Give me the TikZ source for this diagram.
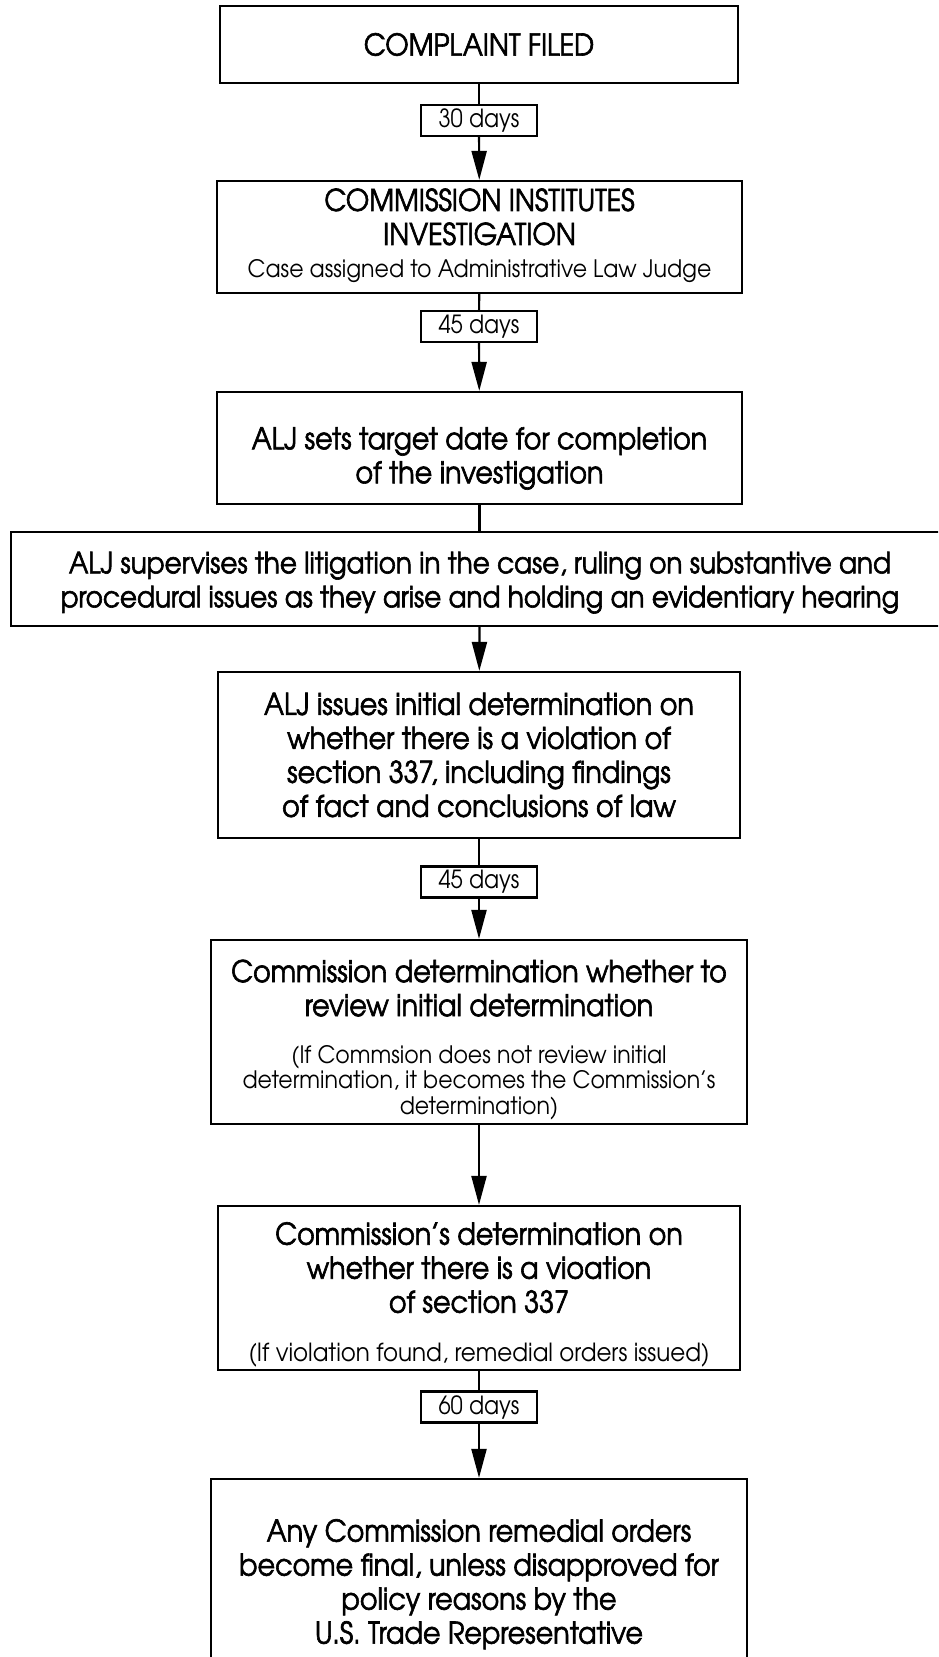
\documentclass[tikz,border=0pt]{standalone}
\usepackage{fontspec}
\setmainfont{TeX Gyre Adventor}
\newfontfamily\mainfam{TeX Gyre Adventor}[FakeStretch=0.9,FakeBold=2]
\newfontfamily\thinfam{TeX Gyre Adventor}[FakeStretch=0.92]
\newfontfamily\labfam{TeX Gyre Adventor}[FakeStretch=0.88]
\usetikzlibrary{arrows.meta}
\newcommand{\subf}{\thinfam\fontsize{24}{25.4}\selectfont}
\newcommand{\up}[1]{\rule{0pt}{#1pt}}
\begin{document}
\begin{tikzpicture}[x=1pt,y=-1pt,
  box/.style={draw,line width=2.2pt,align=center,inner sep=0pt,font=\mainfam\fontsize{30}{34}\selectfont},
  lab/.style={draw,line width=2.2pt,minimum width=116pt,minimum height=31pt,inner sep=0pt,font=\labfam\fontsize{25}{26}\selectfont},
  conn/.style={line width=2.2pt},
  arr/.style={line width=2.2pt,-{Triangle[length=29pt,width=15pt]}}]
\useasboundingbox (0,0) rectangle (938,1657);
\begin{scope}
\clip (0,0) rectangle (938,1657);
\node[box,minimum width=518pt,minimum height=77pt] (b1) at (479,44.5) {COMPLAINT FILED};
\node[box,minimum width=525pt,minimum height=112pt] (b2) at (479.5,237) {COMMISSION INSTITUTES\\INVESTIGATION\\[-1pt]{\subf\begin{tabular}[t]{@{}c@{}}Case assigned to Administrative Law Judge\end{tabular}}};
\node[box,minimum width=525pt,minimum height=112pt] (b3) at (479.5,448) {\up{43}ALJ sets target date for completion\\of the investigation};
\node[box,minimum width=938pt,minimum height=94pt,font=\mainfam\fontsize{29.2}{34}\selectfont] (b4) at (480,579) {\up{29}ALJ supervises the litigation in the case, ruling on substantive and\\procedural issues as they arise and holding an evidentiary hearing};
\node[box,minimum width=522pt,minimum height=166pt] (b5) at (479,755) {ALJ issues initial determination on\\whether there is a violation of\\section 337, including findings\\of fact and conclusions of law};
\node[box,minimum width=536pt,minimum height=184pt] (b6) at (479,1032) {\up{40}Commission determination whether to\\review initial determination\\[13pt]{\subf\begin{tabular}[t]{@{}c@{}}(If Commsion does not review initial\\determination, it becomes the Commission’s\\determination)\end{tabular}}};
\node[box,minimum width=522pt,minimum height=164pt] (b7) at (479,1288) {\up{38}Commission’s determination on\\whether there is a vioation\\of section 337\\[15pt]{\subf\fontsize{25}{25.4}\selectfont\begin{tabular}[t]{@{}c@{}}(If violation found, remedial orders issued)\end{tabular}}};
\node[box,minimum width=536pt,minimum height=191pt] (b8) at (479,1574.5) {\up{42}Any Commission remedial orders\\become final, unless disapproved for\\policy reasons by the\\U.S. Trade Representative};
\end{scope}
\node[lab] (l1) at (479,120.5) {30 days};
\node[lab] (l2) at (479,326.5) {45 days};
\node[lab] (l3) at (479,882) {45 days};
\node[lab] (l4) at (479,1407) {60 days};
\draw[conn] (b1) -- (l1);
\draw[arr] (l1) -- (b2);
\draw[conn] (b2) -- (l2);
\draw[arr] (l2) -- (b3);
\draw[conn] (b3.south) -- (b3.south |- b4.north);
\draw[arr] (b3.south |- b4.south) -- (b5);
\draw[conn] (b5) -- (l3);
\draw[arr] (l3) -- (b6);
\draw[arr] (b6) -- (b7);
\draw[conn] (b7) -- (l4);
\draw[arr] (l4) -- (b8);
\end{tikzpicture}
\end{document}
